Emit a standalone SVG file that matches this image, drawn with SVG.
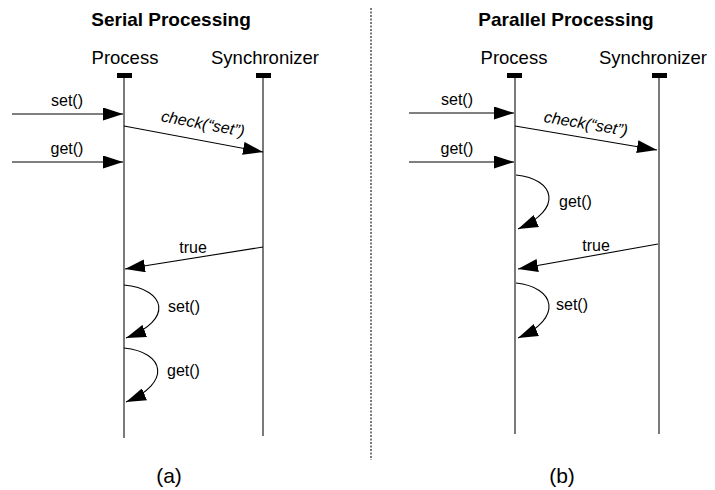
<svg xmlns="http://www.w3.org/2000/svg" width="715" height="490" viewBox="0 0 715 490">
<style>
text{font-family:"Liberation Sans",Arial,sans-serif;fill:#000}
.title{font-size:19px;font-weight:bold;text-anchor:middle}
.head{font-size:18.5px;text-anchor:middle}
.lbl{font-size:16px}
.mid{text-anchor:middle}
.it{font-style:italic}
.life{stroke:#333;stroke-width:1.3;fill:none}
.msg{stroke:#000;stroke-width:1.1;fill:none;marker-end:url(#ah)}
.cap{font-size:21px;text-anchor:middle}
</style>
<defs>
<marker id="ah" markerUnits="userSpaceOnUse" markerWidth="20" markerHeight="13" refX="20" refY="6.5" orient="auto" viewBox="0 0 20 13">
<path d="M0,0 L20,6.5 L0,13 z" fill="#000"/>
</marker>
</defs>
<rect width="715" height="490" fill="#fff"/>
<line x1="371" y1="8" x2="371" y2="460" stroke="#333" stroke-width="1.3" stroke-dasharray="2,1.5"/>
<g id="panel-a">
<text class="title" x="171" y="26">Serial Processing</text>
<g id="a-process">
<text class="head" x="125" y="64">Process</text>
<rect x="117" y="73" width="15" height="5" fill="#000"/>
<line class="life" x1="124" y1="78" x2="124" y2="438"/>
</g>
<g id="a-sync">
<text class="head" x="265" y="64">Synchronizer</text>
<rect x="256" y="73" width="15" height="5" fill="#000"/>
<line class="life" x1="263" y1="78" x2="263" y2="436"/>
</g>
<g id="a-connectors">
<line class="msg" x1="12" y1="114" x2="123" y2="114"/>
<line class="msg" x1="12" y1="162" x2="123" y2="162"/>
<line class="msg" x1="124" y1="126" x2="263" y2="152"/>
<line class="msg" x1="263" y1="247" x2="125" y2="269"/>
<path class="msg" d="M124,285 C166,289 174,320 126,338"/>
<path class="msg" d="M124,348 C165,352 172,383 126,402"/>
</g>
<text class="lbl mid" x="67" y="106">set()</text>
<text class="lbl mid" x="67" y="154">get()</text>
<text class="lbl mid it" x="202" y="129" transform="rotate(10.6 202 129)">check(“set”)</text>
<text class="lbl mid" x="193" y="253">true</text>
<text class="lbl" x="168" y="312">set()</text>
<text class="lbl" x="167" y="376">get()</text>
<text class="cap" x="169" y="483">(a)</text>
</g>
<g id="panel-b">
<text class="title" x="566" y="26">Parallel Processing</text>
<g id="b-process">
<text class="head" x="514" y="64">Process</text>
<rect x="507" y="73" width="15" height="5" fill="#000"/>
<line class="life" x1="515" y1="78" x2="515" y2="434"/>
</g>
<g id="b-sync">
<text class="head" x="653" y="64">Synchronizer</text>
<rect x="652" y="73" width="15" height="5" fill="#000"/>
<line class="life" x1="659" y1="78" x2="659" y2="434"/>
</g>
<g id="b-connectors">
<line class="msg" x1="409" y1="113" x2="514" y2="113"/>
<line class="msg" x1="409" y1="162" x2="514" y2="162"/>
<line class="msg" x1="515" y1="126" x2="657" y2="150"/>
<line class="msg" x1="658" y1="244" x2="518" y2="269"/>
<path class="msg" d="M516,175 C555,179 564,209 518,229"/>
<path class="msg" d="M516,283 C555,287 564,318 518,338"/>
</g>
<text class="lbl mid" x="457" y="105">set()</text>
<text class="lbl mid" x="457" y="154">get()</text>
<text class="lbl mid it" x="585" y="129" transform="rotate(9.5 585 129)">check(“set”)</text>
<text class="lbl mid" x="596" y="251">true</text>
<text class="lbl" x="559" y="207">get()</text>
<text class="lbl" x="556" y="310">set()</text>
<text class="cap" x="562" y="483">(b)</text>
</g>
</svg>
